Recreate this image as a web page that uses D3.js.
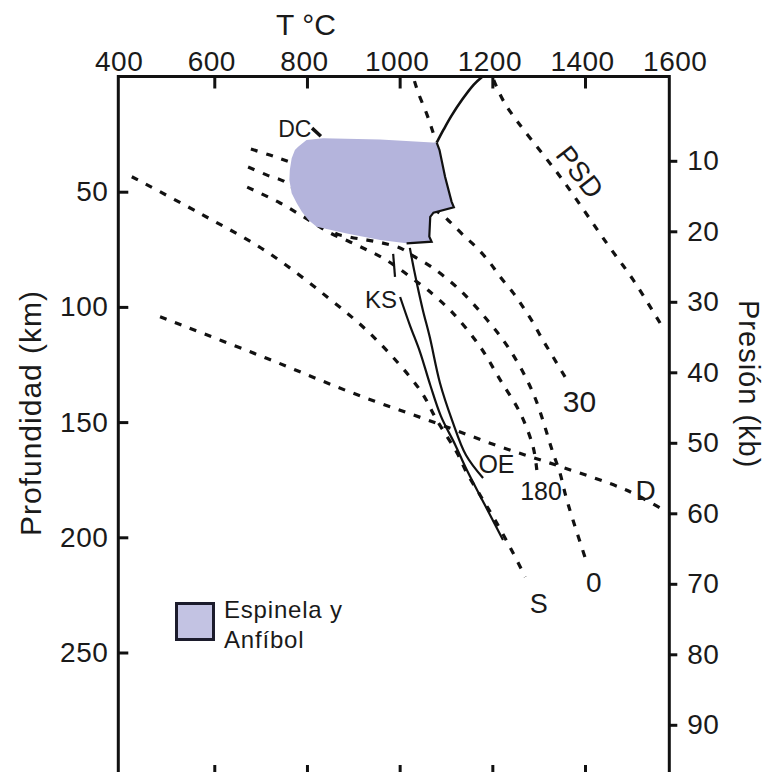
<!DOCTYPE html>
<html>
<head>
<meta charset="utf-8">
<script src="https://cdn.jsdelivr.net/npm/d3@7"></script>
<style>
  body { margin: 0; background: #fff; }
  svg { display: block; font-family: "Liberation Sans", Arial, sans-serif; }
  text { fill: #1a1a1a; }
</style>
</head>
<body>
<svg id="chart" width="766" height="772"></svg>
<script>
// temperature (C) / depth (km) readings taken off the figure

var tempTicks = [400, 600, 800, 1000, 1200, 1400, 1600];
var depthTicks = [50, 100, 150, 200, 250];
var pressTicks = [10, 20, 30, 40, 50, 60, 70, 80, 90];

// Espinela y Anfibol field
var fieldT = [781, 799, 835, 958, 1080, 1086, 1098, 1112, 1117, 1073, 1066, 1064, 1069, 1015, 958, 886, 821, 803, 789, 778, 767, 762, 763, 767, 774];
var fieldD = [30.5, 27.6, 26.8, 27.3, 28.7, 31.9, 43.5, 54.3, 56.8, 59.1, 60.9, 69.5, 71.7, 72.4, 71, 68.1, 65.2, 62.3, 58.7, 55, 50.7, 44.9, 40.6, 35.5, 31.9];
// solid edge along the right side of the field (index range in fieldT)
var fieldEdgeFrom = 4, fieldEdgeTo = 13;

// solid line from the top axis down to the field
var topSolidT = [1179, 1160, 1135, 1112, 1095, 1080];
var topSolidD = [0, 3.5, 10, 17, 23, 28.7];

// dashed line from the top axis down to the field corner
var topDashT = [1032, 1040, 1058, 1070, 1079];
var topDashD = [2, 7, 16, 23, 28.4];

// PSD
var psdT = [1203, 1228, 1352, 1447, 1504, 1562];
var psdD = [1.5, 12, 45, 72.4, 88.3, 107];

// long dashed line ending at S
var sT = [422, 569, 713, 843, 943, 1044, 1080, 1124, 1145, 1176, 1202, 1238, 1271];
var sD = [43.5, 59.4, 76, 95.6, 112.9, 136.1, 149.1, 163.4, 172.1, 182.5, 191.2, 204.2, 217.2];

// D line
var dT = [483, 713, 900, 1080, 1217, 1350, 1489, 1562];
var dD = [104.3, 122.3, 137.5, 150.5, 160.7, 169.5, 179.5, 187.3];

// geotherm 30
var g30T = [679, 720, 763, 893, 1001, 1087, 1109, 1137, 1167, 1195, 1217, 1245, 1266, 1288, 1309, 1331, 1357];
var g30D = [31.5, 34.1, 37.1, 45.8, 52.7, 59.3, 63.2, 68.8, 74.4, 80.9, 87, 93.9, 100, 106.9, 114.4, 121.7, 130.4];

// geotherm 0
var g0T = [673, 714, 753, 807, 856, 893, 930, 964, 1001, 1029, 1072, 1130, 1189, 1238, 1288, 1331, 1346, 1359, 1374, 1402];
var g0D = [39.3, 42.8, 45.8, 55.8, 67.5, 69.7, 71, 72.3, 74.4, 77.9, 83.1, 92.7, 105.7, 118.7, 137.4, 163.4, 172.1, 182.5, 192.5, 209.9];

// geotherm 180
var g180T = [671, 742, 800, 850, 893, 930, 964, 994, 1029, 1061, 1115, 1174, 1217, 1260, 1288, 1296];
var g180D = [48, 54.9, 61.8, 67.9, 71.8, 75.3, 78.8, 82.7, 87.9, 92.7, 102.7, 117.4, 131.7, 146, 160.8, 170.8];

// KS (two solid curves and the short piece above the label)
var ksLeftT = [1001, 1022, 1044, 1066, 1089, 1120, 1145, 1184, 1223];
var ksLeftD = [95.7, 107.9, 119.6, 133.9, 147.4, 159.9, 170.8, 186, 201.2];
var ksRightT = [1022, 1029, 1037, 1050, 1065, 1087, 1113, 1143, 1180];
var ksRightD = [74.4, 81.8, 89.6, 101.3, 113.1, 133, 149.1, 164.3, 174.3];
var ksStubT = [986, 990];
var ksStubD = [77, 87];

// DC pointer
var dcT = [811, 830];
var dcD = [22.4, 25.9];

// annotations: text, temperature, depth (baseline start)
var labelText = ["DC", "KS", "OE", "30", "180", "D", "S", "0"];
var labelT = [738, 925, 1170, 1352, 1260, 1509, 1281, 1402];
var labelD = [26.1, 100.6, 172.2, 145.5, 183.8, 183.8, 232.9, 223.6];
var labelSize = [23, 24, 25, 30, 25, 28, 27, 28];

var svg = d3.select("#chart");

var x = d3.scaleLinear().domain([400, 1600]).range([121.6, 677.7]);
var yD = d3.scaleLinear().domain([0, 250]).range([76.5, 652.5]);
var yP = d3.scaleLinear().domain([0, 100]).range([90.3, 795.3]);

var frameL = 118.3, frameR = 669.3, frameT = 76.5, frameB = 777;

function pts(ts, ds) {
  return ts.map(function(t, i) { return [x(t), yD(ds[i])]; });
}

var line = d3.line().curve(d3.curveCatmullRom.alpha(0.5));

function dashed(ts, ds) {
  svg.append("path")
    .attr("d", line(pts(ts, ds)))
    .attr("fill", "none")
    .attr("stroke", "#111")
    .attr("stroke-width", 3.2)
    .attr("stroke-dasharray", "7,9");
}

function solid(ts, ds, w) {
  svg.append("path")
    .attr("d", line(pts(ts, ds)))
    .attr("fill", "none")
    .attr("stroke", "#111")
    .attr("stroke-width", w || 2.2);
}

// dashed curves (under the field)
dashed(topDashT, topDashD);
dashed(psdT, psdD);
dashed(sT, sD);
dashed(dT, dD);
dashed(g30T, g30D);
dashed(g0T, g0D);
dashed(g180T, g180D);

// field
svg.append("path")
  .attr("d", d3.line()(pts(fieldT, fieldD)) + "Z")
  .attr("fill", "#b4b4dc");

svg.append("path")
  .attr("d", d3.line()(pts(fieldT.slice(fieldEdgeFrom, fieldEdgeTo + 1), fieldD.slice(fieldEdgeFrom, fieldEdgeTo + 1))))
  .attr("fill", "none")
  .attr("stroke", "#111")
  .attr("stroke-width", 2.2);

// solid curves
solid(topSolidT, topSolidD, 2.6);
solid(ksLeftT, ksLeftD);
solid(ksRightT, ksRightD);
solid(ksStubT, ksStubD);
solid(dcT, dcD, 3.5);

// frame
svg.append("rect")
  .attr("x", frameL).attr("y", frameT)
  .attr("width", frameR - frameL).attr("height", frameB - frameT)
  .attr("fill", "none")
  .attr("stroke", "#111")
  .attr("stroke-width", 3);

// top axis: labels
var topLabels = svg.append("g")
  .attr("transform", "translate(-3," + frameT + ")")
  .call(d3.axisTop(x).tickValues(tempTicks).tickSize(0).tickPadding(6).tickFormat(d3.format("d")));
topLabels.select(".domain").remove();

// top and bottom axes: inner ticks
var inner = tempTicks.slice(1, -1);
var topTicks = svg.append("g")
  .attr("transform", "translate(0," + frameT + ")")
  .call(d3.axisBottom(x).tickValues(inner).tickSize(12).tickFormat(""));
topTicks.select(".domain").remove();

var botTicks = svg.append("g")
  .attr("transform", "translate(0," + frameB + ")")
  .call(d3.axisTop(x).tickValues(inner).tickSize(12).tickFormat(""));
botTicks.select(".domain").remove();

// left axis (depth), ticks pointing in
var leftAxis = svg.append("g")
  .attr("transform", "translate(" + frameL + ",0)")
  .call(d3.axisLeft(yD).tickValues(depthTicks).tickSize(-10).tickPadding(10));
leftAxis.select(".domain").remove();

// right axis (pressure), ticks pointing out
var rightAxis = svg.append("g")
  .attr("transform", "translate(" + frameR + ",0)")
  .call(d3.axisRight(yP).tickValues(pressTicks).tickSize(8).tickPadding(10));
rightAxis.select(".domain").remove();

svg.selectAll(".tick line").attr("stroke", "#111").attr("stroke-width", 3);
svg.selectAll(".tick text")
  .attr("fill", "#1a1a1a")
  .style("font-family", "'Liberation Sans', Arial, sans-serif")
  .style("font-size", "28px")
  .style("letter-spacing", "0.5px");

// axis titles
svg.append("text")
  .attr("x", 306).attr("y", 35)
  .attr("text-anchor", "middle")
  .style("font-size", "30px")
  .text("T \u00B0C");

svg.append("text")
  .attr("transform", "translate(41,413) rotate(-90)")
  .attr("text-anchor", "middle")
  .style("font-size", "30px")
  .style("letter-spacing", "1px")
  .text("Profundidad (km)");

svg.append("text")
  .attr("transform", "translate(739,300) rotate(90)")
  .attr("text-anchor", "start")
  .style("font-size", "29px")
  .style("letter-spacing", "1px")
  .text("Presión (kb)");

// annotations
labelText.forEach(function(t, i) {
  svg.append("text")
    .attr("x", x(labelT[i]))
    .attr("y", yD(labelD[i]))
    .style("font-size", labelSize[i] + "px")
    .text(t);
});

svg.append("text")
  .attr("transform", "translate(" + x(1389) + "," + yD(41.4) + ") rotate(52)")
  .attr("text-anchor", "middle")
  .attr("dy", "0.35em")
  .style("font-size", "28px")
  .text("PSD");

// legend
var legend = svg.append("g").attr("transform", "translate(175,602)");
legend.append("rect")
  .attr("x", 1.5).attr("y", 1.5)
  .attr("width", 37).attr("height", 36)
  .attr("fill", "#c3c3e3")
  .attr("stroke", "#1c1c2c")
  .attr("stroke-width", 3);
legend.append("text")
  .attr("x", 49).attr("y", 16)
  .style("font-size", "24px")
  .style("letter-spacing", "0.8px")
  .text("Espinela y");
legend.append("text")
  .attr("x", 49).attr("y", 46)
  .style("font-size", "24px")
  .style("letter-spacing", "0.8px")
  .text("Anfíbol");
</script>
</body>
</html>
